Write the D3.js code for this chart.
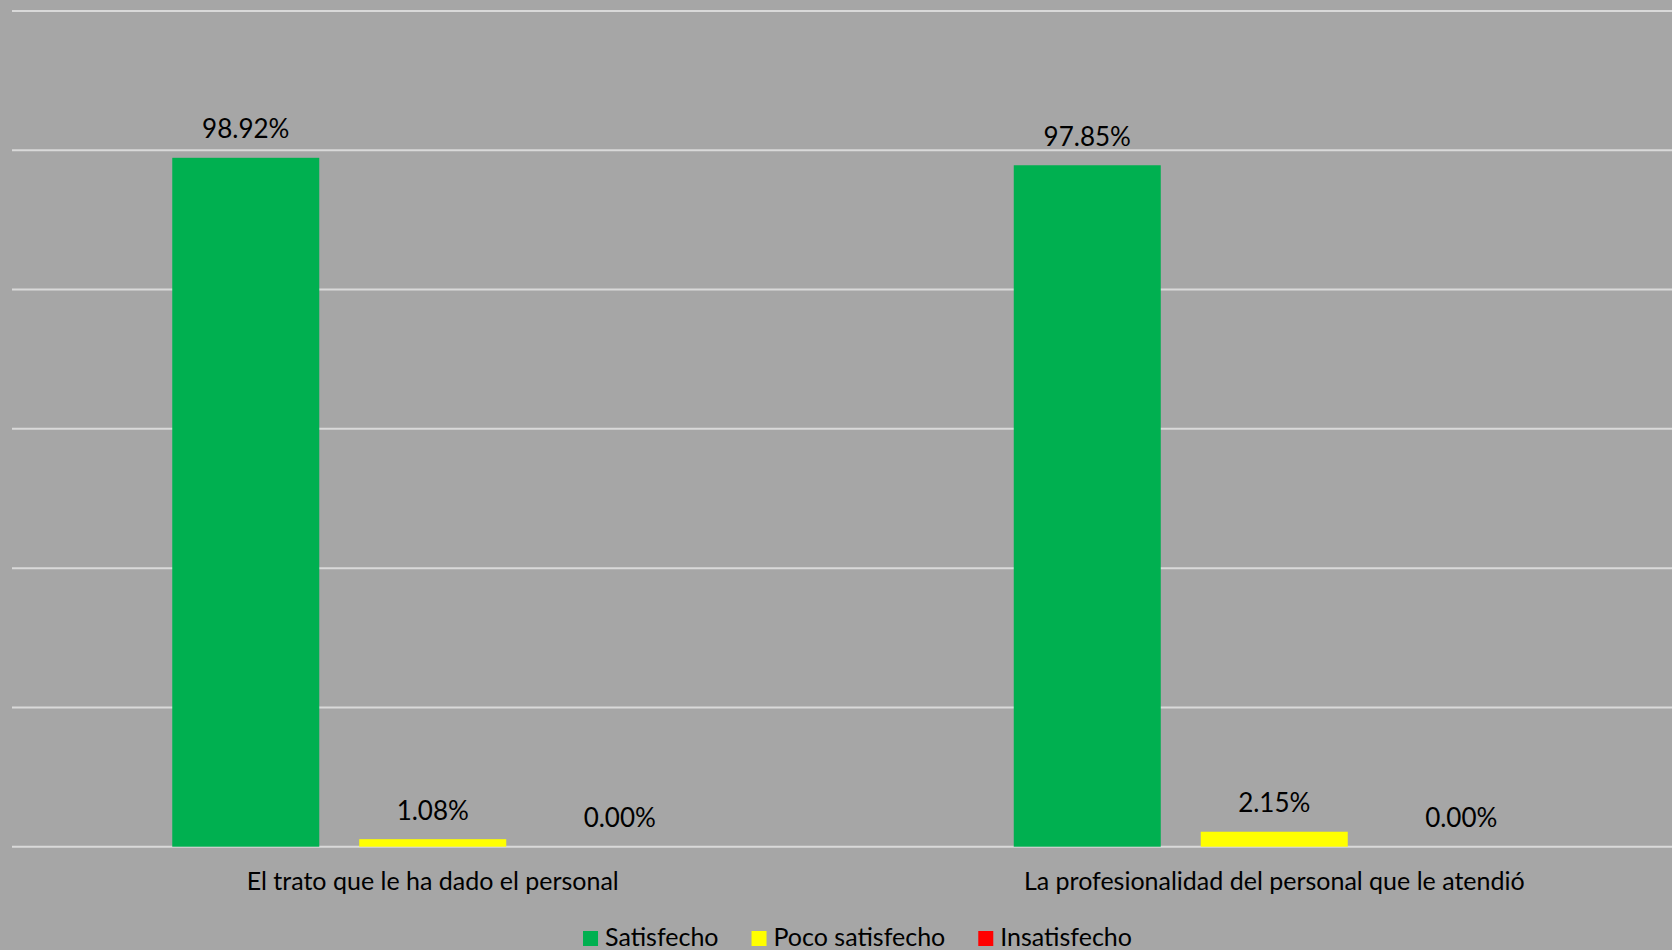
<!DOCTYPE html>
<html>
<head>
<meta charset="utf-8">
<script src="https://cdn.jsdelivr.net/npm/d3@7"></script>
<style>
  html, body { margin: 0; padding: 0; background: #A6A6A6; }
  svg { display: block; }
  text { font-family: Lato, "Open Sans", sans-serif; fill: #000; }
</style>
</head>
<body>
<svg id="chart" width="1672" height="950"></svg>
<script>
const categories = ["El trato que le ha dado el personal", "La profesionalidad del personal que le atendió"];
const seriesNames = ["Satisfecho", "Poco satisfecho", "Insatisfecho"];
const satisfecho = [98.92, 97.85];
const pocoSatisfecho = [1.08, 2.15];
const insatisfecho = [0.00, 0.00];
const seriesColors = ["#00B050", "#FFFF00", "#FF0000"];
const yTicks = [0, 20, 40, 60, 80, 100, 120];

const seriesValues = [satisfecho, pocoSatisfecho, insatisfecho];
const data = categories.map((c, i) => ({
  category: c,
  values: seriesNames.map((s, j) => ({ series: s, value: seriesValues[j][i], color: seriesColors[j] }))
}));

const W = 1672, H = 950;
const svg = d3.select("#chart");
svg.append("rect").attr("width", W).attr("height", H).attr("fill", "#A6A6A6");

const plotLeft = 12, plotRight = 1695;
const y = d3.scaleLinear().domain([0, 120]).range([846.7, 11]);
const x0 = d3.scaleBand().domain(categories).range([plotLeft, plotRight]).paddingInner(0).paddingOuter(0);
const x1 = d3.scaleBand().domain(seriesNames).range([0, x0.bandwidth()]).paddingInner(0.2139).paddingOuter(0.857);

// gridlines
svg.append("g").selectAll("line").data(yTicks).join("line")
  .attr("x1", plotLeft).attr("x2", W)
  .attr("y1", d => y(d)).attr("y2", d => y(d))
  .attr("stroke", "#D9D9D9").attr("stroke-width", 2);

// bars
const groups = svg.append("g").selectAll("g").data(data).join("g")
  .attr("transform", d => `translate(${x0(d.category)},0)`);

groups.selectAll("rect").data(d => d.values).join("rect")
  .attr("x", d => x1(d.series))
  .attr("width", x1.bandwidth())
  .attr("y", d => y(d.value))
  .attr("height", d => y(0) - y(d.value))
  .attr("fill", d => d.color);

groups.selectAll("text.lbl").data(d => d.values).join("text")
  .attr("class", "lbl")
  .attr("x", d => x1(d.series) + x1.bandwidth() / 2)
  .attr("y", d => y(d.value) - 19.5)
  .attr("text-anchor", "middle")
  .attr("font-size", 26)
  .text(d => d.value.toFixed(2) + "%");

// x axis labels
const xAxis = d3.axisBottom(x0).tickSize(0).tickPadding(0);
const gx = svg.append("g").attr("transform", `translate(0,${y(0)})`).call(xAxis);
gx.select(".domain").remove();
gx.selectAll("text")
  .attr("dy", 0).attr("y", 43)
  .attr("font-size", 25)
  .style("font-family", "Lato, 'Open Sans', sans-serif")
  .attr("fill", "#000");

// legend
const legend = svg.append("g");
const sq = 15, gapText = 7, gapItem = 33;
let cx = 0;
seriesNames.forEach((s, i) => {
  const g = legend.append("g").attr("transform", `translate(${cx},0)`);
  g.append("rect").attr("x", 0).attr("y", -15).attr("width", sq).attr("height", 15).attr("fill", seriesColors[i]);
  const t = g.append("text").attr("x", sq + gapText).attr("y", 0).attr("font-size", 25).text(s);
  const w = t.node().getComputedTextLength();
  cx += sq + gapText + w + gapItem;
});
const legendWidth = cx - gapItem;
legend.attr("transform", `translate(${857.5 - legendWidth / 2},946)`);
</script>
</body>
</html>
